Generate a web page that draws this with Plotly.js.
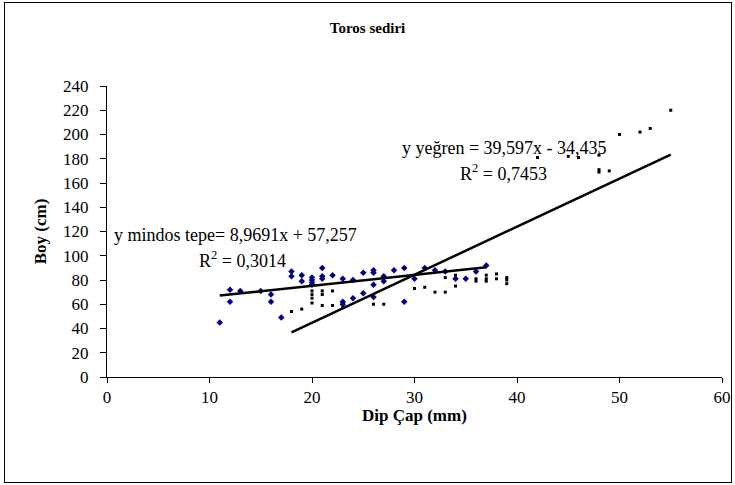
<!DOCTYPE html>
<html>
<head>
<meta charset="utf-8">
<script src="https://cdn.plot.ly/plotly-3.0.1.min.js"></script>
<style>
html,body{margin:0;padding:0;background:#fff;}
#wrap{position:relative;width:735px;height:485px;}
#chart{position:absolute;left:0;top:0;width:735px;height:485px;}
#frame{position:absolute;left:4px;top:2px;width:726px;height:479px;border:1px solid #000;pointer-events:none;}
</style>
</head>
<body>
<div id="wrap"><div id="chart"></div><div id="frame"></div></div>
<script>
// mindos tepe (blue diamonds)
const mindosX = [11,12,12,13,15,16,16,17,18,18,19,19,20,20,20,20,21,21,21,22,23,23,23,24,24,25,25,26,26,26,26,27,27,28,29,29,30,31,32,33,34,35,36,37];
const mindosY = [45,72,62,71,71,68,62,49,87,83,84,79,82,80,78,76,90,83,81,84,81,62,60,65,80,86,69,88,86,76,66,83,79,88,90,62,81,90,88,87,81,81,87,92];
// yeğren (black squares)
const yegrenX = [18,19,20,20,20,20,21,21,21,22,22,23,26,27,30,31,32,33,33,34,34,36,36,37,37,37,38,38,39,39,39,42,45,46,48,48,48,49,50,52,53,55];
const yegrenY = [54,56,71,68,65,61,71,68,59,71,59,58,60,60,73,74,70,70,82,84,75,81,79,84,81,79,85,81,82,80,77,181,182,181,183,171,169,170,200,202,205,220];
// trendline coefficients (x in cm in the original equations)
const mindosTrend = [8.9691, 57.257];
const yegrenTrend = [39.597, -34.435];
const labels = {
  title: "Toros sediri",
  xTitle: "Dip Çap (mm)",
  yTitle: "Boy (cm)",
  mindosEq: "y mindos tepe= 8,9691x + 57,257",
  mindosR2: "R<sup>2</sup> = 0,3014",
  yegrenEq: "y yeğren = 39,597x - 34,435",
  yegrenR2: "R<sup>2</sup> = 0,7453"
};

function trend(xs, coef){
  const x0 = Math.min(...xs), x1 = Math.max(...xs);
  return {x:[x0,x1], y:[coef[0]*x0/10+coef[1], coef[0]*x1/10+coef[1]]};
}
const tm = trend(mindosX, mindosTrend);
const ty = trend(yegrenX, yegrenTrend);

const serif = "Liberation Serif, Times New Roman, serif";
const data = [
  {x:yegrenX, y:yegrenY, type:'scatter', mode:'markers', name:'yeğren',
   marker:{symbol:'square', size:3, color:'#000000'}},
  {x:mindosX, y:mindosY, type:'scatter', mode:'markers', name:'mindos tepe',
   marker:{symbol:'diamond', size:5, color:'#000080'}},
  {x:tm.x, y:tm.y, type:'scatter', mode:'lines', line:{color:'#000', width:2.5}, name:'mindos trend'},
  {x:ty.x, y:ty.y, type:'scatter', mode:'lines', line:{color:'#000', width:2.5}, name:'yeğren trend'}
];
const annFont = {family:serif, size:18, color:'#000'};
const layout = {
  width:735, height:485,
  margin:{l:107, r:13, t:86, b:108},
  paper_bgcolor:'rgba(0,0,0,0)', plot_bgcolor:'rgba(0,0,0,0)',
  showlegend:false,
  font:{family:serif, color:'#000'},
  title:{text:labels.title, font:{family:serif, size:15, color:'#000', weight:'bold'}, x:0.5, xref:'container', y:0.943, yanchor:'middle'},
  xaxis:{range:[0,60], dtick:10, tick0:0, ticks:'outside', ticklen:5, tickcolor:'#000', showline:true, linecolor:'#000', linewidth:1,
    showgrid:false, zeroline:false, tickfont:{family:serif, size:17, color:'#000'}},
  yaxis:{range:[0,240], dtick:20, tick0:0, ticks:'outside', ticklen:6, tickcolor:'#000', showline:true, linecolor:'#000', linewidth:1,
    showgrid:false, zeroline:false, tickfont:{family:serif, size:17, color:'#000'}, ticklabelstandoff:8,
    title:{text:labels.yTitle, font:{family:serif, size:17, color:'#000', weight:'bold'}, standoff:12}},
  annotations:[
    {x:0.5, y:-0.133, xref:'paper', yref:'paper', text:labels.xTitle, showarrow:false, xanchor:'center', yanchor:'middle',
     font:{family:serif, size:17, color:'#000', weight:'bold'}},
    {x:12.5, y:117, xref:'x', yref:'y', text:labels.mindosEq, showarrow:false, xanchor:'center', yanchor:'middle', font:annFont},
    {x:13.2, y:96.5, xref:'x', yref:'y', text:labels.mindosR2, showarrow:false, xanchor:'center', yanchor:'middle', font:annFont},
    {x:38.8, y:189, xref:'x', yref:'y', text:labels.yegrenEq, showarrow:false, xanchor:'center', yanchor:'middle', font:annFont},
    {x:38.7, y:169, xref:'x', yref:'y', text:labels.yegrenR2, showarrow:false, xanchor:'center', yanchor:'middle', font:annFont}
  ]
};
Plotly.newPlot('chart', data, layout, {displayModeBar:false, staticPlot:true});
</script>
</body>
</html>
